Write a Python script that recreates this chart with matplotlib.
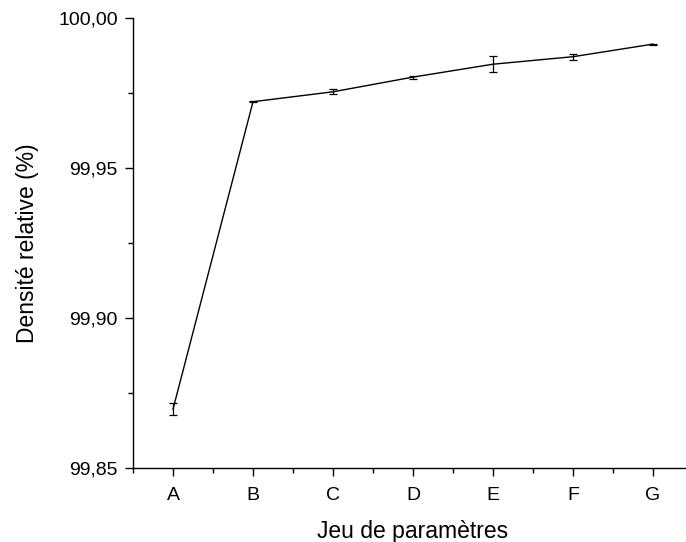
import matplotlib
matplotlib.use("Agg")
import matplotlib.pyplot as plt
from matplotlib.ticker import FuncFormatter, MultipleLocator, FixedLocator

categories = ["A", "B", "C", "D", "E", "F", "G"]
density = [99.8696, 99.9721, 99.9754, 99.9803, 99.9846, 99.9871, 99.9913]
errors = [0.0019, 0.0002, 0.0008, 0.0005, 0.0026, 0.0010, 0.0002]

plt.rcParams['font.family'] = ['Liberation Sans', 'DejaVu Sans']

fig = plt.figure(figsize=(6.86, 5.42), dpi=100)
ax = fig.add_axes([133/686, 1-468/542, 560/686, 450/542])

x = list(range(len(categories)))
ax.errorbar(x, density, yerr=errors, color='black', lw=1.0, capsize=3,
            elinewidth=0.9, capthick=0.9)

ax.set_xlim(-0.5, 6.5)
ax.set_ylim(99.85, 100.00)
ax.set_xticks(x)
ax.set_xticklabels(categories)
ax.xaxis.set_minor_locator(FixedLocator([i + 0.5 for i in range(-1, 7)]))
ax.yaxis.set_major_locator(MultipleLocator(0.05))
ax.yaxis.set_minor_locator(MultipleLocator(0.025))
ax.yaxis.set_major_formatter(FuncFormatter(lambda v, p: f"{v:.2f}".replace('.', ',')))

for s in ['top', 'right']:
    ax.spines[s].set_visible(False)
for s in ['left', 'bottom']:
    ax.spines[s].set_linewidth(1.0)

ax.tick_params(which='major', direction='out', length=6, width=1, labelsize=14, pad=5)
ax.tick_params(axis='x', which='major', pad=8)
ax.tick_params(which='minor', direction='out', length=3.5, width=1)

ax.set_xlabel("Jeu de paramètres", fontsize=16.5, labelpad=11)
ax.set_ylabel("Densité relative (%)", fontsize=16.5, labelpad=14)

fig.savefig("out.png", dpi=100)
